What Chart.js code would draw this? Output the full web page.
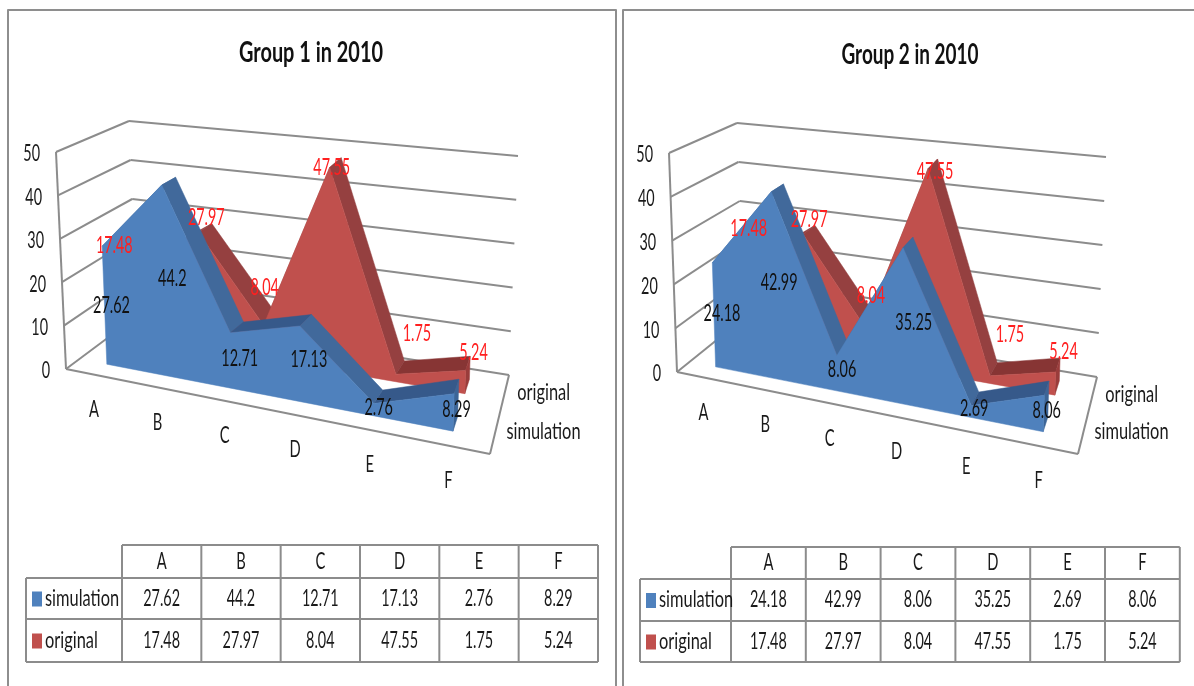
<!DOCTYPE html>
<html>
<head>
<meta charset="utf-8">
<style>
  html, body { margin: 0; padding: 0; background: #fff; width: 1194px; height: 686px; overflow: hidden; }
  canvas { position: absolute; top: 0; }
</style>
<script src="https://cdn.jsdelivr.net/npm/chart.js@4"></script>
</head>
<body>
<canvas id="group1" width="620" height="686" style="left:0"></canvas>
<canvas id="group2" width="574" height="686" style="left:620px"></canvas>
<script>
// Values shown in each chart
const categories = ['A', 'B', 'C', 'D', 'E', 'F'];
const seriesNames = ['simulation', 'original'];
const group1Simulation = [27.62, 44.2, 12.71, 17.13, 2.76, 8.29];
const group2Simulation = [24.18, 42.99, 8.06, 35.25, 2.69, 8.06];
const originalValues = [17.48, 27.97, 8.04, 47.55, 1.75, 5.24];

// Styling for each series: face, falling slope, flat slope, end cap
const palette = [
  { face: '#4f81bd', slope: '#41699b', flat: '#36598a', cap: '#3c6597', label: '#111111' },
  { face: '#c0504d', slope: '#954040', flat: '#873534', cap: '#9a3c3b', label: '#ff2020' }
];
const GRID = '#8c8c8c';
const INK = '#1a1a1a';

// Depth slots of the two ribbons, front and rear, as a share of the floor depth
const ribbonDepth = [[0.19, 0.385], [0.68, 0.87]];

// Box geometry of each 3D plot, in page pixels
const layouts = {
  group1: {
    ox: 0, title: 'Group 1 in 2010', titleX: 311, titleY: 53, titleW: 144,
    frame: [8, 10, 616, 700],
    floor: { fl: [66, 369], fr: [490, 454], bl: [137, 316], br: [509, 375] },
    top: { fl: [56, 152], fr: [498, 225], bl: [129, 121], br: [518, 156] },
    u0: 0.066, u1: 0.902, k0: 0.2325, k1: -0.224,
    table: { x0: 26, x1: 122, colW: 79.33, y: [545, 578, 619, 662] },
    labelShift: [
      [[7, 0], [8, -2], [9, -2], [9, -4], [5, -2], [3, -3]],
      [[-23, -21], [8, -15], [1, -38], [2, 0], [21, -41], [8, -18]]
    ]
  },
  group2: {
    ox: 620, title: 'Group 2 in 2010', titleX: 910, titleY: 55, titleW: 137,
    frame: [623, 10, 1220, 700],
    floor: { fl: [677, 372], fr: [1078, 454], bl: [744, 318], br: [1097, 377] },
    top: { fl: [669, 153], fr: [1086, 225], bl: [737, 123], br: [1106, 157] },
    u0: 0.066, u1: 0.902, k0: 0.153, k1: -0.122,
    table: { x0: 640, x1: 731, colW: 74.8, y: [547, 579, 621, 662] },
    labelShift: [
      [[8, -1], [6, -3], [5, -4], [11, -3], [3, -3], [3, -3]],
      [[4, -40], [6, -15], [6, -32], [7, 3], [20, -41], [8, -20]]
    ]
  }
};

const lerp = (a, b, t) => [a[0] + (b[0] - a[0]) * t, a[1] + (b[1] - a[1]) * t];

// Position on a horizontal plane of the box
function onPlane(plane, u, d) {
  return lerp(lerp(plane.fl, plane.fr, u), lerp(plane.bl, plane.br, u), d);
}
// Position in the box: u across, v up, d into the picture (all 0..1)
function inBox(g, u, v, d) {
  const p = lerp(onPlane(g.floor, u, d), onPlane(g.top, u, d), v);
  return [p[0] - g.ox, p[1]];
}
// Category position to box position, foreshortened toward the left and more so up front
function spread(g, t, d) {
  const s = t / (1 + (g.k0 + g.k1 * d) * (1 - t));
  return g.u0 + (g.u1 - g.u0) * s;
}

function text(ctx, str, x, y, o) {
  ctx.save();
  ctx.font = (o.bold ? 'bold ' : '') + o.size + 'px Lato, "Open Sans", sans-serif';
  ctx.fillStyle = o.color || INK;
  ctx.textBaseline = 'middle';
  ctx.textAlign = 'left';
  const natural = ctx.measureText(str).width;
  const sx = o.width ? o.width / natural : (o.sx || 0.74);
  const w = natural * sx;
  const left = o.align === 'right' ? x - w : o.align === 'left' ? x : x - w / 2;
  ctx.translate(left, y);
  ctx.scale(sx, 1);
  ctx.fillText(str, 0, 0);
  ctx.restore();
}

function poly(ctx, pts, fill) {
  ctx.beginPath();
  pts.forEach((p, i) => (i ? ctx.lineTo(p[0], p[1]) : ctx.moveTo(p[0], p[1])));
  ctx.closePath();
  ctx.fillStyle = fill;
  ctx.fill();
  ctx.strokeStyle = fill;
  ctx.lineWidth = 0.5;
  ctx.stroke();
}
function line(ctx, a, b, color, width) {
  ctx.beginPath();
  ctx.moveTo(a[0], a[1]);
  ctx.lineTo(b[0], b[1]);
  ctx.strokeStyle = color || GRID;
  ctx.lineWidth = width || 2;
  ctx.stroke();
}

const NUM = { size: 23, sx: 0.626 };
const LETTER = { size: 23, sx: 0.64 };
const WORD = { size: 23, sx: 0.713 };

// Draws the 3D area plot, its axes and the data table through the chart's scales
const areaPlot3D = {
  id: 'areaPlot3D',
  afterDatasetsDraw(chart) {
    const g = layouts[chart.canvas.id];
    const ctx = chart.ctx;
    const xs = chart.scales.x;
    const ys = chart.scales.y;
    const uAt = (i, d) => spread(g, (xs.getPixelForValue(i) - xs.left) / xs.width, d);
    const vAt = val => (ys.bottom - ys.getPixelForValue(val)) / ys.height;
    ctx.save();
    ctx.lineJoin = 'round';

    // Panel outline
    const f = g.frame;
    ctx.strokeStyle = '#8e8e8e';
    ctx.lineWidth = 2;
    ctx.strokeRect(f[0] - g.ox, f[1], f[2] - f[0], f[3] - f[1]);

    // Title
    text(ctx, g.title, g.titleX - g.ox, g.titleY, { size: 29, bold: true, width: g.titleW, color: '#111' });

    // Walls and gridlines
    ys.ticks.forEach(tick => {
      const v = vAt(tick.value);
      const front = inBox(g, 0, v, 0);
      const back = inBox(g, 0, v, 1);
      const right = inBox(g, 1, v, 1);
      line(ctx, front, back);
      line(ctx, back, right);
      text(ctx, String(tick.value), front[0] - 16, front[1] + 2, { ...NUM, align: 'right' });
    });
    line(ctx, inBox(g, 0, 0, 0), inBox(g, 0, 1, 0));
    line(ctx, inBox(g, 0, 0, 0), inBox(g, 1, 0, 0));
    line(ctx, inBox(g, 1, 0, 0), inBox(g, 1, 0, 1));

    // Ribbons, rear series first so the front one overlaps it
    for (let s = chart.data.datasets.length - 1; s >= 0; s--) {
      const vals = chart.data.datasets[s].data;
      const [d0, d1] = ribbonDepth[s];
      const c = palette[s];
      const n = vals.length;
      for (let i = 0; i < n - 1; i++) {
        const va = vAt(vals[i]), vb = vAt(vals[i + 1]);
        const pa0 = inBox(g, uAt(i, d0), va, d0), pb0 = inBox(g, uAt(i + 1, d0), vb, d0);
        const pa1 = inBox(g, uAt(i, d1), va, d1), pb1 = inBox(g, uAt(i + 1, d1), vb, d1);
        const gentle = Math.abs(vals[i + 1] - vals[i]) < 8;
        poly(ctx, [pa0, pb0, pb1, pa1], gentle ? c.flat : c.slope);
      }
      const vEnd = vAt(vals[n - 1]);
      poly(ctx, [
        inBox(g, uAt(n - 1, d0), vEnd, d0), inBox(g, uAt(n - 1, d1), vEnd, d1),
        inBox(g, uAt(n - 1, d1), 0, d1), inBox(g, uAt(n - 1, d0), 0, d0)
      ], c.cap);
      const face = vals.map((val, i) => inBox(g, uAt(i, d0), vAt(val), d0));
      face.push(inBox(g, uAt(n - 1, d0), 0, d0), inBox(g, uAt(0, d0), 0, d0));
      poly(ctx, face, c.face);
    }

    // Category labels and series names along the floor
    categories.forEach((cat, i) => {
      const p = inBox(g, uAt(i, 0.4), 0, 0);
      text(ctx, cat, p[0], p[1] + 35, LETTER);
    });
    [[1, 39], [0, 48]].forEach(([s, dx]) => {
      const p = inBox(g, 1, 0, (ribbonDepth[s][0] + ribbonDepth[s][1]) / 2);
      text(ctx, seriesNames[s], p[0] + dx, p[1], WORD);
    });

    // Value labels, original in red above its peak, simulation at half height
    [1, 0].forEach(s => {
      const vals = chart.data.datasets[s].data;
      const d0 = ribbonDepth[s][0];
      vals.forEach((val, i) => {
        const p = inBox(g, uAt(i, d0), vAt(val) * (s ? 1 : 0.5), d0);
        const shift = g.labelShift[s][i];
        text(ctx, String(val), p[0] + shift[0], p[1] + shift[1], { ...NUM, color: palette[s].label });
      });
    });

    // Data table
    const t = g.table;
    const xEnd = t.x1 + t.colW * categories.length;
    const ox = g.ox;
    line(ctx, [t.x1 - ox, t.y[0]], [xEnd - ox, t.y[0]]);
    for (let r = 1; r < t.y.length; r++) line(ctx, [t.x0 - ox, t.y[r]], [xEnd - ox, t.y[r]]);
    line(ctx, [t.x0 - ox, t.y[1]], [t.x0 - ox, t.y[3]]);
    for (let c = 0; c <= categories.length; c++) {
      const cx = t.x1 + t.colW * c - ox;
      line(ctx, [cx, t.y[0]], [cx, t.y[3]]);
    }
    categories.forEach((cat, i) => {
      const cx = t.x1 + t.colW * (i + 0.5) - ox;
      text(ctx, cat, cx, (t.y[0] + t.y[1]) / 2, LETTER);
      chart.data.datasets.forEach((ds, s) => {
        text(ctx, String(ds.data[i]), cx, (t.y[s + 1] + t.y[s + 2]) / 2, NUM);
      });
    });
    chart.data.datasets.forEach((ds, s) => {
      const my = (t.y[s + 1] + t.y[s + 2]) / 2;
      ctx.fillStyle = palette[s].face;
      ctx.fillRect(t.x0 + 6 - ox, my - 7, 10, 15);
      text(ctx, ds.label, t.x0 + 19 - ox, my, { ...WORD, align: 'left' });
    });
    ctx.restore();
  }
};

function buildChart(id, simulation, original) {
  new Chart(document.getElementById(id), {
    type: 'line',
    data: {
      labels: categories,
      datasets: [
        { label: seriesNames[0], data: simulation, showLine: false, pointRadius: 0, backgroundColor: palette[0].face },
        { label: seriesNames[1], data: original, showLine: false, pointRadius: 0, backgroundColor: palette[1].face }
      ]
    },
    options: {
      responsive: false,
      animation: false,
      events: [],
      layout: { padding: 0 },
      plugins: { legend: { display: false }, title: { display: false }, tooltip: { enabled: false } },
      scales: {
        x: { display: false, offset: false },
        y: { display: false, min: 0, max: 50, ticks: { stepSize: 10 } }
      }
    },
    plugins: [areaPlot3D]
  });
}

buildChart('group1', group1Simulation, originalValues);
buildChart('group2', group2Simulation, originalValues);
</script>
</body>
</html>
